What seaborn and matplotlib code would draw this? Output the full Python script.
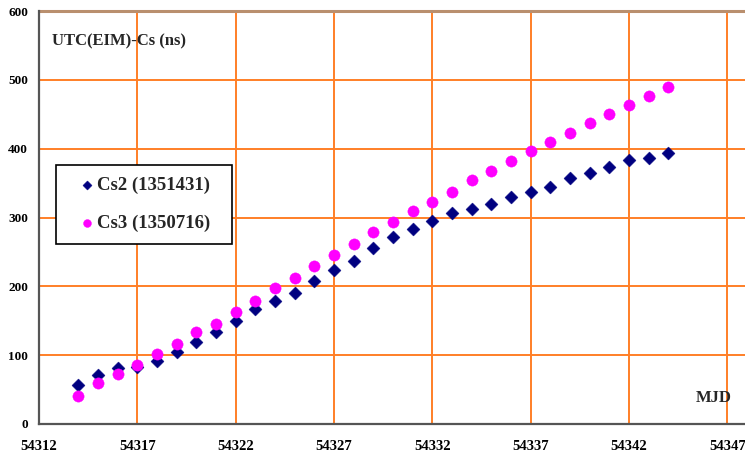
import matplotlib
matplotlib.use("Agg")
import matplotlib.pyplot as plt
import seaborn as sns
import pandas as pd

# MJD days and clock offsets (ns)
mjd = list(range(54314, 54345))
cs2 = [57, 71, 81, 83, 91, 104, 119, 134, 149, 167, 179, 190, 208, 224, 237, 255,
       272, 284, 295, 306, 312, 320, 330, 337, 345, 358, 365, 373, 383, 387, 394]
cs3 = [40, 59, 73, 86, 101, 116, 133, 146, 162, 179, 197, 212, 230, 245, 262, 279,
       293, 310, 322, 337, 354, 367, 382, 397, 410, 423, 437, 450, 464, 476, 490]
series_names = ["Cs2 (1351431)", "Cs3 (1350716)"]
x_ticks = [54312, 54317, 54322, 54327, 54332, 54337, 54342, 54347]
y_ticks = [0, 100, 200, 300, 400, 500, 600]

sns.set_style("white")
plt.rcParams["font.family"] = ["Liberation Serif", "DejaVu Serif"]
plt.rcParams["font.weight"] = "bold"

df = pd.DataFrame({"MJD": mjd, "Cs2": cs2, "Cs3": cs3})

fig = plt.figure(figsize=(7.45, 4.54), dpi=100)
ax = fig.add_axes([39 / 745, 30 / 454, 706 / 745, 413 / 454])

grid_col = "#FF7F27"
for xv in x_ticks:
    ax.axvline(xv, color=grid_col, lw=1.4, zorder=0)
for yv in y_ticks[1:-1]:
    ax.axhline(yv, color=grid_col, lw=1.4, zorder=0)
ax.axhline(600, color="#B98F6E", lw=2.2, zorder=0, clip_on=False)

sns.scatterplot(data=df, x="MJD", y="Cs2", ax=ax, marker="D", s=44,
                color="#000080", edgecolor="#000080", linewidth=0.3,
                label=series_names[0], zorder=3)
sns.scatterplot(data=df, x="MJD", y="Cs3", ax=ax, marker="o", s=66,
                color="#FF00FF", edgecolor="#FF00FF", linewidth=0.3,
                label=series_names[1], zorder=3)

ax.set_xlim(54312, 54347.9)
ax.set_ylim(0, 600)
ax.set_xticks(x_ticks)
ax.set_yticks(y_ticks)
ax.set_xticklabels([str(v) for v in x_ticks], fontsize=10.5, fontweight="bold")
ax.set_yticklabels([str(v) for v in y_ticks], fontsize=9.5, fontweight="bold")
ax.tick_params(axis="both", direction="out", length=4, width=1.2, color="#555555",
               labelcolor="black")
ax.tick_params(axis="y", pad=4)
ax.tick_params(axis="x", pad=7.5)
ax.set_xlabel("")
ax.set_ylabel("")

for side in ("top", "right"):
    ax.spines[side].set_visible(False)
for side in ("left", "bottom"):
    ax.spines[side].set_color("#555555")
    ax.spines[side].set_linewidth(1.6)

ax.text(0.019, 0.926, "UTC(EIM)-Cs (ns)", transform=ax.transAxes,
        fontsize=12, fontweight="bold", ha="left", va="center")
ax.text(0.956, 0.063, "MJD", transform=ax.transAxes,
        fontsize=12, fontweight="bold", ha="center", va="center")

leg = ax.legend(loc="upper left", bbox_to_anchor=(17 / 706, 0.433, 176 / 706, 0.194),
                mode="expand",
                frameon=True, fancybox=False, edgecolor="black", framealpha=1,
                prop={"family": "Liberation Serif", "weight": "bold", "size": 13.5},
                markerscale=0.7, handletextpad=-0.5, labelspacing=1.1,
                borderpad=0.62, handlelength=2.07, borderaxespad=0)
leg.get_frame().set_linewidth(1.2)

fig.savefig("out.png", dpi=100)
